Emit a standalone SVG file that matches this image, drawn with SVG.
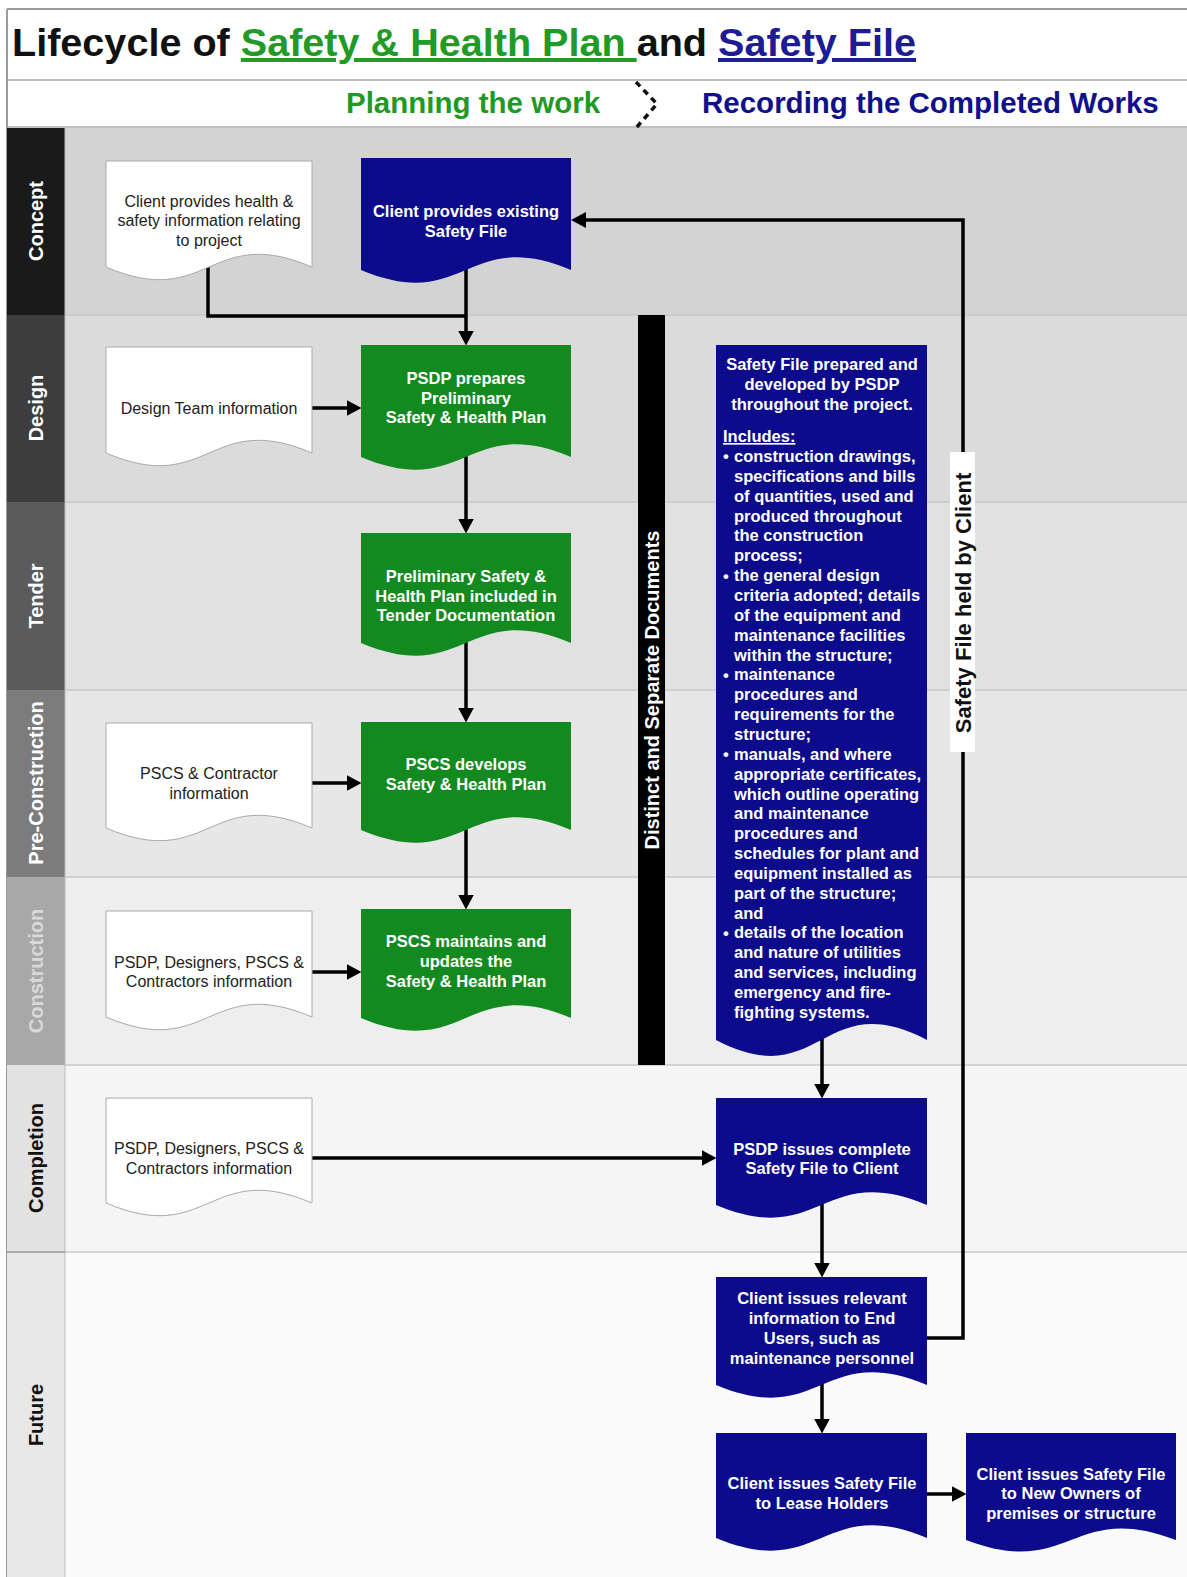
<svg xmlns="http://www.w3.org/2000/svg" width="1187" height="1577" viewBox="0 0 1187 1577">
<style>
text{font-family:"Liberation Sans",Arial,sans-serif}
.lane-lbl{font-size:20px;font-weight:bold;text-anchor:middle}
.wt{font-size:16px;fill:#222;text-anchor:middle}
.ct{font-size:16.5px;font-weight:bold;fill:#fff;text-anchor:middle}
.bt{font-size:16.5px;font-weight:bold;fill:#fff}
.wdoc{fill:#fff;stroke:#aaa;stroke-width:1}
.gdoc{fill:#138a1f}
.bdoc{fill:#0b0b8b}
.conn{fill:none;stroke:#000;stroke-width:3.5}
.arr{marker-end:url(#ah)}
</style>
<defs>
<marker id="ah" viewBox="0 0 15 16" refX="0.5" refY="8" markerWidth="15" markerHeight="16" markerUnits="userSpaceOnUse" orient="auto"><path d="M0,0 L15,8 L0,16 z" fill="#000"/></marker>
</defs>

<rect x="0" y="0" width="1187" height="1577" fill="#fff"/>
<g id="header">
<line x1="7" y1="9" x2="1187" y2="9" stroke="#9a9a9a" stroke-width="2"/>
<line x1="7" y1="9" x2="7" y2="1577" stroke="#9a9a9a" stroke-width="2"/>
<line x1="7" y1="80" x2="1187" y2="80" stroke="#aaa" stroke-width="1.5"/>
<line x1="7" y1="127" x2="1187" y2="127" stroke="#aaa" stroke-width="1.5"/>
<text x="12" y="56" font-size="39.6" font-weight="bold" fill="#111">Lifecycle of <tspan fill="#229a26" text-decoration="underline">Safety &amp; Health Plan </tspan>and <tspan fill="#1c1c94" text-decoration="underline">Safety File</tspan></text>
<text x="346" y="113" font-size="29.5" font-weight="bold" fill="#1e9a22">Planning the work</text>
<path d="M636,82 L657,104 L636,128" fill="none" stroke="#111" stroke-width="3.5" stroke-dasharray="6,5"/>
<text x="702" y="113" font-size="29.5" font-weight="bold" fill="#10108a">Recording the Completed Works</text>
</g>

<g id="lanes">
<rect x="65" y="128" width="1122" height="187" fill="#d3d3d3"/>
<rect x="65" y="315" width="1122" height="187" fill="#dbdbdb"/>
<rect x="65" y="502" width="1122" height="188" fill="#e1e1e1"/>
<rect x="65" y="690" width="1122" height="187" fill="#e7e7e7"/>
<rect x="65" y="877" width="1122" height="188" fill="#eeeeee"/>
<rect x="65" y="1065" width="1122" height="187" fill="#f5f5f5"/>
<rect x="65" y="1252" width="1122" height="325" fill="#fafafa"/>
<g stroke="#c9c9c9" stroke-width="1.5">
<line x1="65" y1="315" x2="1187" y2="315"/>
<line x1="65" y1="502" x2="1187" y2="502"/>
<line x1="65" y1="690" x2="1187" y2="690"/>
<line x1="65" y1="877" x2="1187" y2="877"/>
<line x1="65" y1="1065" x2="1187" y2="1065"/>
<line x1="65" y1="1252" x2="1187" y2="1252"/>
</g>
<rect x="7" y="128" width="58" height="187" fill="#1a1a1a"/>
<rect x="7" y="315" width="58" height="187" fill="#3d3d3d"/>
<rect x="7" y="502" width="58" height="188" fill="#5b5b5b"/>
<rect x="7" y="690" width="58" height="187" fill="#7c7c7c"/>
<rect x="7" y="877" width="58" height="188" fill="#a8a8a8"/>
<rect x="7" y="1065" width="58" height="187" fill="#e2e2e2"/>
<rect x="7" y="1252" width="58" height="325" fill="#e8e8e8"/>
<line x1="65" y1="128" x2="65" y2="1577" stroke="#bbb" stroke-width="1"/>
<line x1="7" y1="1252" x2="65" y2="1252" stroke="#999" stroke-width="1.5"/>
<text class="lane-lbl" fill="#fff" transform="translate(43,221) rotate(-90)">Concept</text>
<text class="lane-lbl" fill="#fff" transform="translate(43,408) rotate(-90)">Design</text>
<text class="lane-lbl" fill="#fff" transform="translate(43,596) rotate(-90)">Tender</text>
<text class="lane-lbl" fill="#fff" transform="translate(43,783) rotate(-90)">Pre-Construction</text>
<text class="lane-lbl" fill="#d9d9d9" transform="translate(43,971) rotate(-90)">Construction</text>
<text class="lane-lbl" fill="#111" transform="translate(43,1158) rotate(-90)">Completion</text>
<text class="lane-lbl" fill="#111" transform="translate(43,1415) rotate(-90)">Future</text>
</g>

<g id="separator-bar">
<rect x="638" y="315" width="27" height="750" fill="#000"/>
<text font-size="20" font-weight="bold" fill="#fff" text-anchor="middle" transform="translate(658.5,690) rotate(-90)">Distinct  and Separate Documents</text>
</g>

<g id="connectors">
<path class="conn" d="M208,265 V316 H466"/>
<path class="conn arr" d="M466,262 V331"/>
<path class="conn arr" d="M312,408 H347"/>
<path class="conn arr" d="M466,452 V519"/>
<path class="conn arr" d="M466,638 V708"/>
<path class="conn arr" d="M312,783 H347"/>
<path class="conn arr" d="M466,826 V895"/>
<path class="conn arr" d="M312,972 H347"/>
<path class="conn arr" d="M312,1158 H702"/>
<path class="conn arr" d="M822,1035 V1084"/>
<path class="conn arr" d="M822,1200 V1263"/>
<path class="conn arr" d="M822,1380 V1419"/>
<path class="conn arr" d="M927,1494 H952"/>
<path class="conn arr" d="M927,1338 H963 V220 H585.5"/>
<rect x="950" y="452" width="25" height="300" fill="#fff"/>
<text font-size="22" font-weight="bold" fill="#111" text-anchor="middle" transform="translate(971,603) rotate(-90)">Safety File held by Client</text>
</g>

<g id="n-client-info">
<path class="wdoc" d="M106,161 H312 V267 C209,223 209,311 106,267 Z"/>
<text class="wt" x="209" y="207">Client provides health &amp;</text>
<text class="wt" x="209" y="226">safety information relating</text>
<text class="wt" x="209" y="246">to project</text>
</g>
<g id="n-existing-file">
<path class="bdoc" d="M361,158 H571 V270 C466,226 466,314 361,270 Z"/>
<text class="ct" x="466" y="217">Client provides existing</text>
<text class="ct" x="466" y="237">Safety File</text>
</g>
<g id="n-design-info">
<path class="wdoc" d="M106,347 H312 V453 C209,409 209,497 106,453 Z"/>
<text class="wt" x="209" y="414">Design Team information</text>
</g>
<g id="n-prelim-plan">
<path class="gdoc" d="M361,345 H571 V457 C466,413 466,501 361,457 Z"/>
<text class="ct" x="466" y="384">PSDP prepares</text>
<text class="ct" x="466" y="404">Preliminary</text>
<text class="ct" x="466" y="423">Safety &amp; Health Plan</text>
</g>
<g id="n-tender">
<path class="gdoc" d="M361,533 H571 V643 C466,599 466,687 361,643 Z"/>
<text class="ct" x="466" y="582">Preliminary Safety &amp;</text>
<text class="ct" x="466" y="602">Health Plan included in</text>
<text class="ct" x="466" y="621">Tender Documentation</text>
</g>
<g id="n-pscs-info">
<path class="wdoc" d="M106,723 H312 V828 C209,784 209,872 106,828 Z"/>
<text class="wt" x="209" y="779">PSCS &amp; Contractor</text>
<text class="wt" x="209" y="799">information</text>
</g>
<g id="n-pscs-develops">
<path class="gdoc" d="M361,722 H571 V830 C466,786 466,874 361,830 Z"/>
<text class="ct" x="466" y="770">PSCS develops</text>
<text class="ct" x="466" y="790">Safety &amp; Health Plan</text>
</g>
<g id="n-construction-info">
<path class="wdoc" d="M106,911 H312 V1017 C209,973 209,1061 106,1017 Z"/>
<text class="wt" x="209" y="968">PSDP, Designers, PSCS &amp;</text>
<text class="wt" x="209" y="987">Contractors information</text>
</g>
<g id="n-pscs-maintains">
<path class="gdoc" d="M361,909 H571 V1018 C466,974 466,1062 361,1018 Z"/>
<text class="ct" x="466" y="947">PSCS maintains and</text>
<text class="ct" x="466" y="967">updates the</text>
<text class="ct" x="466" y="987">Safety &amp; Health Plan</text>
</g>
<g id="n-completion-info">
<path class="wdoc" d="M106,1098 H312 V1203 C209,1159 209,1247 106,1203 Z"/>
<text class="wt" x="209" y="1154">PSDP, Designers, PSCS &amp;</text>
<text class="wt" x="209" y="1174">Contractors information</text>
</g>

<g id="n-safety-file-prepared">
<path class="bdoc" d="M716,345 H927 V1040 C821.5,985 821.5,1095 716,1040 Z"/>
<text class="ct" x="822" y="370">Safety File prepared and</text>
<text class="ct" x="822" y="390">developed by PSDP</text>
<text class="ct" x="822" y="410">throughout the project.</text>
<text class="bt" x="723" y="442" text-decoration="underline">Includes:</text>
<g class="bt">
<text x="723" y="462">•</text>
<text x="723" y="581.5">•</text>
<text x="723" y="680.8">•</text>
<text x="723" y="760.2">•</text>
<text x="723" y="938.8">•</text>
</g>
<text class="bt" x="734" y="462">construction drawings,</text>
<text class="bt" x="734" y="481.9">specifications and bills</text>
<text class="bt" x="734" y="501.7">of quantities, used and</text>
<text class="bt" x="734" y="521.6">produced throughout</text>
<text class="bt" x="734" y="541.4">the construction</text>
<text class="bt" x="734" y="561.3">process;</text>
<text class="bt" x="734" y="581.1">the general design</text>
<text class="bt" x="734" y="601">criteria adopted; details</text>
<text class="bt" x="734" y="620.8">of the equipment and</text>
<text class="bt" x="734" y="640.7">maintenance facilities</text>
<text class="bt" x="734" y="660.5">within the structure;</text>
<text class="bt" x="734" y="680.4">maintenance</text>
<text class="bt" x="734" y="700.2">procedures and</text>
<text class="bt" x="734" y="720.1">requirements for the</text>
<text class="bt" x="734" y="739.9">structure;</text>
<text class="bt" x="734" y="759.8">manuals, and where</text>
<text class="bt" x="734" y="779.6">appropriate certificates,</text>
<text class="bt" x="734" y="799.5">which outline operating</text>
<text class="bt" x="734" y="819.3">and maintenance</text>
<text class="bt" x="734" y="839.2">procedures and</text>
<text class="bt" x="734" y="859">schedules for plant and</text>
<text class="bt" x="734" y="878.9">equipment installed as</text>
<text class="bt" x="734" y="898.7">part of the structure;</text>
<text class="bt" x="734" y="918.6">and</text>
<text class="bt" x="734" y="938.4">details of the location</text>
<text class="bt" x="734" y="958.3">and nature of utilities</text>
<text class="bt" x="734" y="978.1">and services, including</text>
<text class="bt" x="734" y="998">emergency and fire-</text>
<text class="bt" x="734" y="1017.8">fighting systems.</text>
</g>
<g id="n-psdp-issues">
<path class="bdoc" d="M716,1098 H927 V1205 C821.5,1161 821.5,1249 716,1205 Z"/>
<text class="ct" x="822" y="1155">PSDP issues complete</text>
<text class="ct" x="822" y="1174">Safety File to Client</text>
</g>
<g id="n-end-users">
<path class="bdoc" d="M716,1277 H927 V1385 C821.5,1341 821.5,1429 716,1385 Z"/>
<text class="ct" x="822" y="1304">Client issues relevant</text>
<text class="ct" x="822" y="1324">information to End</text>
<text class="ct" x="822" y="1344">Users, such as</text>
<text class="ct" x="822" y="1364">maintenance personnel</text>
</g>
<g id="n-lease-holders">
<path class="bdoc" d="M716,1433 H927 V1538 C821.5,1494 821.5,1582 716,1538 Z"/>
<text class="ct" x="822" y="1489">Client issues Safety File</text>
<text class="ct" x="822" y="1509">to Lease Holders</text>
</g>
<g id="n-new-owners">
<path class="bdoc" d="M966,1433 H1176 V1540 C1071,1500 1071,1580 966,1540 Z"/>
<text class="ct" x="1071" y="1480">Client issues Safety File</text>
<text class="ct" x="1071" y="1499">to New Owners of</text>
<text class="ct" x="1071" y="1519">premises or structure</text>
</g>
</svg>
